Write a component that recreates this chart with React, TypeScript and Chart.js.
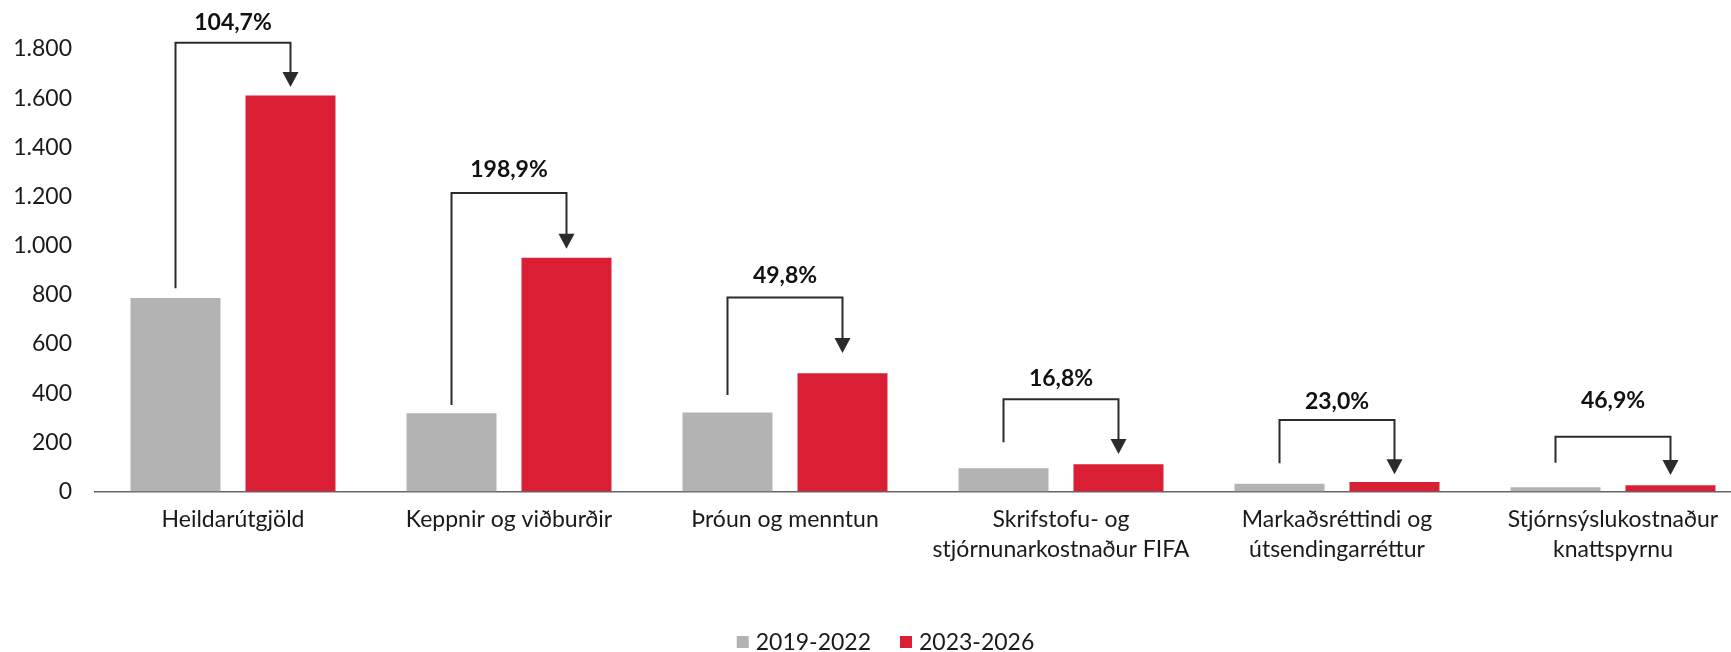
import React, { useEffect, useRef } from 'react';
import { Chart, registerables } from 'chart.js';

Chart.register(...registerables);

// ---- Data ----
const categories: string[][] = [
  ['Heildarútgjöld'],
  ['Keppnir og viðburðir'],
  ['Þróun og menntun'],
  ['Skrifstofu- og', 'stjórnunarkostnaður FIFA'],
  ['Markaðsréttindi og', 'útsendingarréttur'],
  ['Stjórnsýslukostnaður', 'knattspyrnu'],
];

const seriesNames = ['2019-2022', '2023-2026'];
const period1 = [787, 318, 321, 95, 32, 17];
const period2 = [1611, 951, 481, 111, 39, 25];

const changeLabels = ['104,7%', '198,9%', '49,8%', '16,8%', '23,0%', '46,9%'];
// bracket levels in axis units
const bracketStart = [827, 352, 393, 200, 115, 117];
const bracketTop = [1825, 1214, 789, 375, 291, 223];
const arrowTip = [1645, 987, 563, 153, 70, 67];
const labelLevel = [1906, 1311, 878, 458, 364, 370];

const yMin = 0;
const yMax = 1800;
const yStep = 200;

const GRAY = '#B3B3B3';
const RED = '#DA1F35';
const INK = '#2B2B2B';
const TEXT = '#1A1A1A';
const FONT = 'Lato, "Noto Sans", sans-serif';
const seriesColors = [GRAY, RED];

const formatThousands = (v: number) =>
  String(Math.round(v)).replace(/\B(?=(\d{3})+(?!\d))/g, '.');

const bracketPlugin = {
  id: 'brackets',
  afterDatasetsDraw(chart: any) {
    const ctx = chart.ctx as CanvasRenderingContext2D;
    const y = chart.scales.y;
    const m0 = chart.getDatasetMeta(0);
    const m1 = chart.getDatasetMeta(1);
    ctx.save();
    for (let i = 0; i < categories.length; i++) {
      const x0 = m0.data[i].x;
      const x1 = m1.data[i].x;
      const ys = y.getPixelForValue(bracketStart[i]);
      const yt = y.getPixelForValue(bracketTop[i]);
      const yp = y.getPixelForValue(arrowTip[i]);
      const head = 15;
      ctx.strokeStyle = INK;
      ctx.fillStyle = INK;
      ctx.lineWidth = 2;
      ctx.lineJoin = 'miter';
      ctx.beginPath();
      ctx.moveTo(x0, ys);
      ctx.lineTo(x0, yt);
      ctx.lineTo(x1, yt);
      ctx.lineTo(x1, yp - head + 1);
      ctx.stroke();
      ctx.beginPath();
      ctx.moveTo(x1 - 8, yp - head);
      ctx.lineTo(x1 + 8, yp - head);
      ctx.lineTo(x1, yp);
      ctx.closePath();
      ctx.fill();

      ctx.fillStyle = '#111';
      ctx.font = `bold 23px ${FONT}`;
      ctx.textAlign = 'center';
      ctx.textBaseline = 'middle';
      ctx.fillText(changeLabels[i], (x0 + x1) / 2, y.getPixelForValue(labelLevel[i]));
    }
    ctx.restore();
  },
};

// simple bottom legend drawn on the canvas
const legendPlugin = {
  id: 'customLegend',
  afterDraw(chart: any) {
    const ctx = chart.ctx as CanvasRenderingContext2D;
    const box = 12;
    const gapText = 7;
    const gapItem = 29;
    const cy = chart.height - 10;
    ctx.save();
    ctx.font = `23px ${FONT}`;
    ctx.textBaseline = 'middle';
    ctx.textAlign = 'left';
    const widths = seriesNames.map((n) => ctx.measureText(n).width);
    const total =
      widths.reduce((a, w) => a + box + gapText + w, 0) + gapItem * (seriesNames.length - 1);
    const center = (20 + chart.chartArea.right) / 2;
    let x = center - total / 2;
    seriesNames.forEach((n, i) => {
      ctx.fillStyle = seriesColors[i];
      ctx.fillRect(x, cy - box / 2, box, box);
      ctx.fillStyle = TEXT;
      ctx.fillText(n, x + box + gapText, cy + 1);
      x += box + gapText + widths[i] + gapItem;
    });
    ctx.restore();
  },
};

export default function App() {
  const canvasRef = useRef<HTMLCanvasElement | null>(null);

  useEffect(() => {
    if (!canvasRef.current) return;
    const chart = new Chart(canvasRef.current, {
      type: 'bar',
      data: {
        labels: categories,
        datasets: [
          {
            label: seriesNames[0],
            data: period1,
            backgroundColor: GRAY,
            borderWidth: 0,
            barPercentage: 0.7826,
            categoryPercentage: 0.8333,
          },
          {
            label: seriesNames[1],
            data: period2,
            backgroundColor: RED,
            borderWidth: 0,
            barPercentage: 0.7826,
            categoryPercentage: 0.8333,
          },
        ],
      },
      options: {
        responsive: false,
        animation: false,
        devicePixelRatio: 1,
        layout: { padding: { top: 49, left: 0, right: 0, bottom: 66 } },
        plugins: {
          tooltip: { enabled: false },
          legend: { display: false },
        },
        scales: {
          x: {
            grid: { display: false, drawTicks: false },
            border: { display: true, color: '#666666', width: 1.5 },
            ticks: {
              color: TEXT,
              font: { family: FONT, size: 23, lineHeight: 1.3 },
              padding: 13,
              maxRotation: 0,
              autoSkip: false,
            },
            afterFit: (s: any) => {
              s.height = 94.5;
            },
          },
          y: {
            min: yMin,
            max: yMax,
            grid: { display: false, drawTicks: false },
            border: { display: false },
            ticks: {
              stepSize: yStep,
              color: TEXT,
              font: { family: FONT, size: 23 },
              padding: 23,
              callback: (v: any) => formatThousands(Number(v)),
            },
            afterFit: (s: any) => {
              s.width = 95;
            },
          },
        },
      },
      plugins: [bracketPlugin, legendPlugin],
    });
    return () => chart.destroy();
  }, []);

  return (
    <div
      style={{
        position: 'fixed',
        left: 0,
        top: 0,
        width: 1731,
        height: 652,
        overflow: 'hidden',
        background: '#ffffff',
      }}
    >
      <canvas ref={canvasRef} width={1751} height={652} style={{ display: 'block' }} />
    </div>
  );
}
